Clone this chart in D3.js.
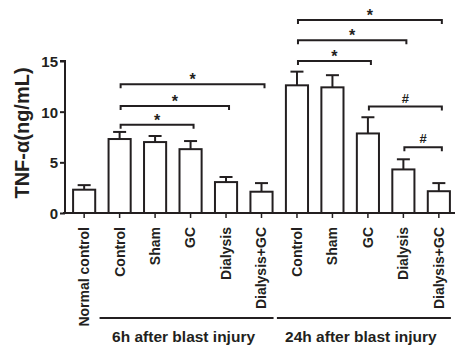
<!DOCTYPE html>
<html>
<head>
<meta charset="utf-8">
<script src="https://cdn.jsdelivr.net/npm/d3@7"></script>
<style>
  body { margin: 0; background: #fff; }
  text { font-family: "Liberation Sans", Arial, sans-serif; fill: #231f20; }
</style>
</head>
<body>
<div id="chart"></div>
<script>
// groups / bars
var labels = ["Normal control", "Control", "Sham", "GC", "Dialysis", "Dialysis+GC",
              "Control", "Sham", "GC", "Dialysis", "Dialysis+GC"];
var means = [2.3, 7.3, 7.0, 6.3, 3.05, 2.1, 12.6, 12.4, 7.85, 4.3, 2.15];
var errs  = [0.45, 0.7, 0.6, 0.8, 0.5, 0.85, 1.35, 1.2, 1.6, 1.0, 0.8];
var yTicks = [0, 5, 10, 15];

// brackets: from bar index, to bar index, level (y value), mark
var brFrom = [1, 1, 1, 6, 6, 6, 8, 9];
var brTo   = [3, 4, 5, 8, 9, 10, 10, 10];
var brY    = [8.7, 10.55, 12.7, 15.0, 17.05, 19.05, 10.5, 6.5];
var brMark = ["*", "*", "*", "*", "*", "*", "#", "#"];

var groupNames = ["6h after blast injury", "24h after blast injury"];
var groupFrom = [1, 6];
var groupTo = [5, 10];

var W = 455, H = 347;
var ink = "#231f20";

var svg = d3.select("#chart").append("svg")
    .attr("width", W)
    .attr("height", H);

var ids = d3.range(labels.length);

var x = d3.scaleBand()
    .domain(ids)
    .range([65, 458])
    .paddingInner(0.32)
    .paddingOuter(0.2);

var y = d3.scaleLinear()
    .domain([0, 15])
    .range([213, 61]);

function cx(i) { return x(i) + x.bandwidth() / 2; }

// y axis
var yAxis = svg.append("g")
    .attr("transform", "translate(65,0)")
    .call(d3.axisLeft(y).tickValues(yTicks).tickSize(5).tickPadding(2));
yAxis.select(".domain").attr("stroke", ink).attr("stroke-width", 2)
    .attr("d", "M-5," + y(15) + "H0V" + y(0));
yAxis.selectAll(".tick line").attr("stroke", ink).attr("stroke-width", 2);
yAxis.selectAll(".tick text")
    .style("font-size", "15px").style("font-weight", "bold")
    .attr("fill", ink).attr("dy", "0.36em");

// x axis
var xAxis = svg.append("g")
    .attr("transform", "translate(0,213)")
    .call(d3.axisBottom(x).tickSize(5).tickFormat(function (i) { return labels[i]; }));
xAxis.select(".domain").attr("stroke", ink).attr("stroke-width", 2)
    .attr("d", "M63,0H455");
xAxis.selectAll(".tick line").attr("stroke", ink).attr("stroke-width", 1.5);
xAxis.selectAll(".tick text")
    .style("font-size", "14px").style("font-weight", "bold")
    .attr("fill", ink)
    .attr("text-anchor", "end")
    .attr("transform", "rotate(-90)")
    .attr("x", -14).attr("y", 0).attr("dy", "0.35em");

// bars
svg.selectAll("rect.bar")
    .data(ids)
    .enter().append("rect")
    .attr("class", "bar")
    .attr("x", function (i) { return x(i) + 1; })
    .attr("width", x.bandwidth() - 2)
    .attr("y", function (i) { return y(means[i]); })
    .attr("height", function (i) { return y(0) - y(means[i]); })
    .attr("fill", "#fff")
    .attr("stroke", ink)
    .attr("stroke-width", 2);

// error bars (upper only)
var eb = svg.selectAll("g.err").data(ids).enter().append("g").attr("class", "err");
eb.append("line")
    .attr("x1", cx).attr("x2", cx)
    .attr("y1", function (i) { return y(means[i]); })
    .attr("y2", function (i) { return y(means[i] + errs[i]); })
    .attr("stroke", ink).attr("stroke-width", 2);
eb.append("line")
    .attr("x1", function (i) { return cx(i) - 6.5; })
    .attr("x2", function (i) { return cx(i) + 6.5; })
    .attr("y1", function (i) { return y(means[i] + errs[i]); })
    .attr("y2", function (i) { return y(means[i] + errs[i]); })
    .attr("stroke", ink).attr("stroke-width", 2);

// significance brackets
var br = svg.selectAll("g.br").data(d3.range(brFrom.length)).enter().append("g").attr("class", "br");
br.append("path")
    .attr("d", function (k) {
        var x1 = cx(brFrom[k]) + 1, x2 = cx(brTo[k]) + 3, yy = y(brY[k]);
        return "M" + x1 + "," + (yy + 4) + "V" + yy + "H" + x2 + "V" + (yy + 4);
    })
    .attr("fill", "none").attr("stroke", ink).attr("stroke-width", 2);
br.append("text")
    .attr("x", function (k) { return (cx(brFrom[k]) + cx(brTo[k])) / 2 + 2; })
    .attr("y", function (k) { return y(brY[k]) - (brMark[k] == "*" ? -1 : 4); })
    .attr("text-anchor", "middle")
    .style("font-size", function (k) { return brMark[k] == "*" ? "16px" : "13px"; })
    .style("font-weight", "bold")
    .text(function (k) { return brMark[k]; });

// group lines and names
var gr = svg.selectAll("g.grp").data([0, 1]).enter().append("g").attr("class", "grp");
gr.append("line")
    .attr("x1", function (g) { return x(groupFrom[g]) - 8; })
    .attr("x2", function (g) { return x(groupTo[g]) + x.bandwidth(); })
    .attr("y1", 318).attr("y2", 318)
    .attr("stroke", ink).attr("stroke-width", 2);
gr.append("text")
    .attr("x", function (g) { return (x(groupFrom[g]) + x(groupTo[g]) + x.bandwidth()) / 2 - 7; })
    .attr("y", 342)
    .attr("text-anchor", "middle")
    .style("font-size", "15.5px").style("font-weight", "bold")
    .text(function (g) { return groupNames[g]; });

// y title
svg.append("text")
    .attr("transform", "translate(29,133) rotate(-90)")
    .attr("text-anchor", "middle")
    .style("font-size", "20px").style("font-weight", "bold")
    .text("TNF-α(ng/mL)");
</script>
</body>
</html>
